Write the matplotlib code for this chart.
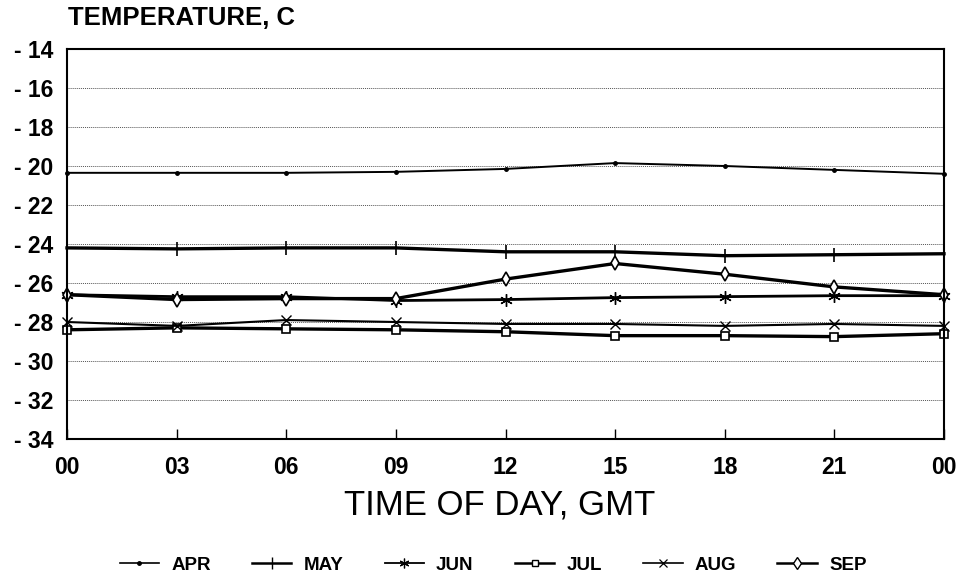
import matplotlib
matplotlib.use("Agg")
import matplotlib.pyplot as plt
from matplotlib.lines import Line2D

hours = [0, 3, 6, 9, 12, 15, 18, 21, 24]
xtick_labels = ["00", "03", "06", "09", "12", "15", "18", "21", "00"]
yticks = [-14, -16, -18, -20, -22, -24, -26, -28, -30, -32, -34]

apr = [-20.35, -20.35, -20.35, -20.3, -20.15, -19.85, -20.0, -20.2, -20.4]
may = [-24.2, -24.25, -24.2, -24.2, -24.4, -24.4, -24.6, -24.55, -24.5]
jun = [-26.6, -26.7, -26.7, -26.9, -26.85, -26.75, -26.7, -26.65, -26.65]
jul = [-28.4, -28.3, -28.35, -28.4, -28.5, -28.7, -28.7, -28.75, -28.6]
aug = [-28.0, -28.2, -27.9, -28.0, -28.1, -28.1, -28.2, -28.1, -28.2]
sep = [-26.6, -26.85, -26.8, -26.8, -25.8, -25.0, -25.55, -26.2, -26.6]

series = ["APR", "MAY", "JUN", "JUL", "AUG", "SEP"]

fig = plt.figure(figsize=(9.63, 5.86), dpi=100)
ax = fig.add_axes([67/963, 1-439/586, (944-67)/963, (439-49)/586])

styles = {
    "APR": dict(marker="o", ms=2.5, lw=1.4, mfc="black"),
    "MAY": dict(marker="|", ms=10, mew=1.2, lw=2.4),
    "JUN": dict(marker=(6, 2, 0), ms=9, mew=1.0, lw=2.0),
    "JUL": dict(marker="s", ms=6, mew=1.2, lw=2.4, mfc="white"),
    "AUG": dict(marker="x", ms=7, mew=1.0, lw=1.5),
    "SEP": dict(marker="d", ms=7.5, mew=1.2, lw=2.4, mfc="white"),
}
legend_styles = {
    "APR": dict(marker="o", ms=2.5, lw=1.2, mfc="black"),
    "MAY": dict(marker="|", ms=8, mew=1.0, lw=1.8),
    "JUN": dict(marker=(6, 2, 0), ms=7, mew=0.9, lw=1.3),
    "JUL": dict(marker="s", ms=5, mew=1.0, lw=1.8, mfc="white"),
    "AUG": dict(marker="x", ms=6, mew=0.9, lw=1.2),
    "SEP": dict(marker="d", ms=6, mew=1.0, lw=1.8, mfc="white"),
}
data = {"APR": apr, "MAY": may, "JUN": jun, "JUL": jul, "AUG": aug, "SEP": sep}

for name in series:
    ax.plot(hours, data[name], color="black", label=name, clip_on=False, **styles[name])

ax.set_xlim(0, 24)
ax.set_ylim(-34, -14)
ax.set_yticks(yticks)
ax.set_yticklabels(["- " + str(abs(v)) for v in yticks], fontfamily="Liberation Sans",
                   fontweight="bold", fontsize=16.5)
ax.set_xticks(hours)
ax.set_xticklabels(xtick_labels, fontfamily="Liberation Sans", fontweight="bold", fontsize=16.5)
ax.tick_params(axis="x", direction="in", length=7, width=1, pad=12)
ax.tick_params(axis="y", length=0, pad=10)
ax.grid(axis="y", linestyle=(0, (1, 1)), linewidth=0.7, color="#555555")
for s in ax.spines.values():
    s.set_linewidth(1.5)
    s.set_color("black")

fig.text(68/963, 1-18/586, "TEMPERATURE, C", fontfamily="Liberation Sans",
         fontweight="bold", fontsize=18.5, va="center", ha="left")
fig.text(500/963, 1-505/586, "TIME OF DAY, GMT", fontfamily="Liberation Sans",
         fontsize=25, va="center", ha="center")

handles = [Line2D([0], [0], color="black", **legend_styles[n]) for n in series]
fig.legend(handles, series, loc="center", bbox_to_anchor=(493/963, 1-565/586),
           ncol=6, frameon=False, handlelength=2.1, handletextpad=0.65,
           columnspacing=2.2,
           prop=dict(family="Liberation Sans", weight="bold", size=13.5))

fig.savefig("out.png", dpi=100)
